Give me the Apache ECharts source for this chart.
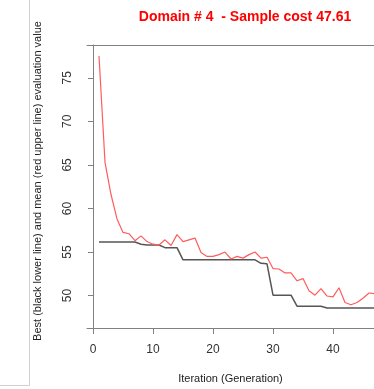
<!DOCTYPE html>
<html>
<head>
<meta charset="utf-8">
<script src="https://cdn.jsdelivr.net/npm/echarts@6/dist/echarts.min.js"></script>
<style>html,body{margin:0;padding:0;background:#fff}#c{width:374px;height:389px}</style>
</head>
<body>
<div id="c"></div>
<script>
const meanValues = [77.5, 65.3, 61.6, 58.8, 57.25, 57.1, 56.3, 56.85, 56.2, 55.9, 55.8, 56.4, 55.75, 57.0, 56.2, 56.4, 56.6, 54.95, 54.5, 54.5, 54.7, 55.0, 54.2, 54.5, 54.3, 54.7, 55.0, 54.3, 54.4, 53.1, 53.05, 52.6, 52.6, 51.7, 51.95, 50.55, 50.05, 50.8, 49.95, 49.85, 50.9, 49.2, 48.95, 49.2, 49.7, 50.3, 50.2];
const bestValues = [56.15, 56.15, 56.15, 56.15, 56.15, 56.15, 56.15, 55.9, 55.8, 55.8, 55.8, 55.5, 55.5, 55.5, 54.1, 54.1, 54.1, 54.1, 54.1, 54.1, 54.1, 54.1, 54.1, 54.1, 54.1, 54.1, 54.1, 53.7, 53.65, 50.05, 50.05, 50.05, 50.05, 48.78, 48.78, 48.78, 48.78, 48.78, 48.57, 48.57, 48.57, 48.57, 48.57, 48.57, 48.57, 48.57, 48.57];
const xTicks = [0, 10, 20, 30, 40];
const yTicks = [50, 55, 60, 65, 70, 75];
const titleText = 'Domain # 4  - Sample cost 47.61';
const xTitle = 'Iteration (Generation)';
const yTitle = 'Best (black lower line) and mean (red upper line) evaluation value';

const font = 'Liberation Sans, Arial, sans-serif';
const toPairs = arr => arr.map((v, i) => [i + 1, v]);
const boxLine = {show: true, lineStyle: {color: '#808080', width: 1}};

const chart = echarts.init(document.getElementById('c'), null, {renderer: 'canvas'});
chart.setOption({
  animation: false,
  backgroundColor: '#fff',
  title: {
    text: titleText,
    left: 245, top: 10, padding: 0,
    textAlign: 'center',
    textStyle: {color: '#ff0000', fontSize: 14, fontWeight: 'bold', fontFamily: font}
  },
  grid: {
    left: 87, top: 45, right: 0, height: 288,
    show: false, containLabel: false
  },
  xAxis: [{
    type: 'value', min: -1, max: 46.83, position: 'bottom',
    axisLine: boxLine,
    splitLine: {show: false},
    axisTick: {show: true, length: 6, customValues: xTicks, lineStyle: {color: '#808080'}},
    axisLabel: {customValues: xTicks, margin: 16, color: '#333', fontSize: 12, fontFamily: font},
    name: xTitle, nameLocation: 'middle', nameGap: 45,
    nameTextStyle: {color: '#222', fontSize: 11, fontFamily: font}
  }, {
    type: 'value', min: -1, max: 46.83, position: 'top',
    axisLine: boxLine, axisTick: {show: false}, axisLabel: {show: false}, splitLine: {show: false}
  }],
  yAxis: {
    type: 'value', min: 46.28, max: 78.76,
    axisLine: boxLine,
    splitLine: {show: false},
    axisTick: {show: true, length: 5, customValues: yTicks, lineStyle: {color: '#808080'}},
    axisLabel: {customValues: yTicks, rotate: 90, margin: 13, color: '#333', fontSize: 12, fontFamily: font}
  },
  graphic: [
    {type: 'text', x: 38, y: 181, rotation: Math.PI / 2,
     style: {text: yTitle, fill: '#222', font: '11px ' + font, textAlign: 'center', textVerticalAlign: 'middle'}},
    {type: 'line', shape: {x1: 29.5, y1: 0, x2: 29.5, y2: 385.5}, style: {stroke: '#d0d0d0', lineWidth: 1}},
    {type: 'line', shape: {x1: 0, y1: 385.5, x2: 29.5, y2: 385.5}, style: {stroke: '#d0d0d0', lineWidth: 1}}
  ],
  series: [
    {type: 'line', xAxisIndex: 0, data: toPairs(bestValues), symbol: 'none', lineStyle: {color: '#555', width: 1.5}, z: 3},
    {type: 'line', xAxisIndex: 0, data: toPairs(meanValues), symbol: 'none', lineStyle: {color: '#ff5c5c', width: 1.2}, z: 4}
  ]
});
</script>
</body>
</html>
